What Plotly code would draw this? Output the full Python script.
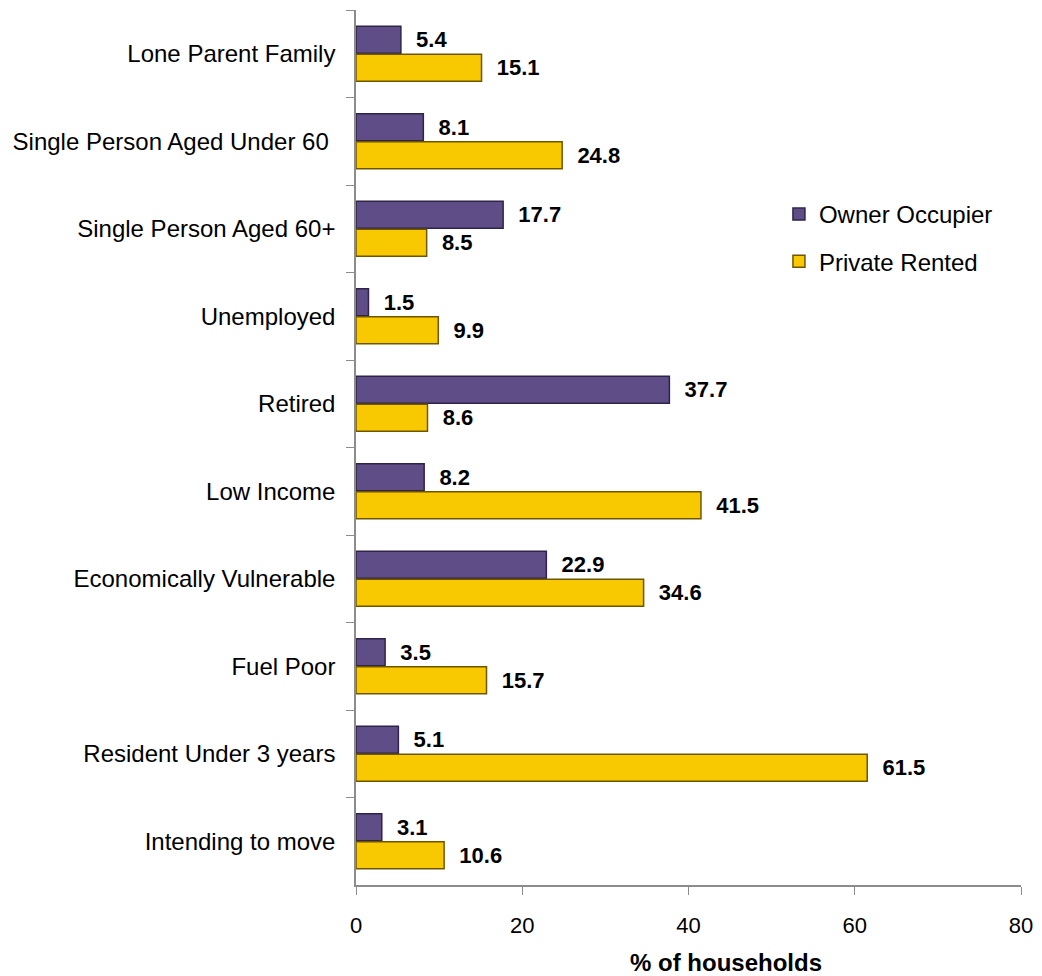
import plotly.graph_objects as go

categories = ["Lone Parent Family", "Single Person Aged Under 60 ", "Single Person Aged 60+",
              "Unemployed", "Retired", "Low Income", "Economically Vulnerable",
              "Fuel Poor", "Resident Under 3 years", "Intending to move"]
owner_occupier = [5.4, 8.1, 17.7, 1.5, 37.7, 8.2, 22.9, 3.5, 5.1, 3.1]
private_rented = [15.1, 24.8, 8.5, 9.9, 8.6, 41.5, 34.6, 15.7, 61.5, 10.6]
x_ticks = [0, 20, 40, 60, 80]
x_title = "% of households"

font_family = "Liberation Sans, Arial, sans-serif"
label_font = dict(size=22, color="black", family=font_family, weight="bold")

fig = go.Figure()
fig.add_trace(go.Bar(
    y=categories, x=owner_occupier, orientation="h", name="Owner Occupier",
    legendgroup="owner",
    marker=dict(color="#5e4d86", line=dict(color="#2f2448", width=1.5)),
    texttemplate="  %{x:.1f}", textposition="outside",
    textfont=label_font, cliponaxis=False,
))
fig.add_trace(go.Bar(
    y=categories, x=private_rented, orientation="h", name="Private Rented",
    legendgroup="private",
    marker=dict(color="#f8c800", line=dict(color="#6e5600", width=1.5)),
    texttemplate="  %{x:.1f}", textposition="outside",
    textfont=label_font, cliponaxis=False,
))

# body margin of 8px in the page is compensated by the figure size/margins
fig.update_layout(
    width=1034, height=968,
    paper_bgcolor="white", plot_bgcolor="white",
    margin=dict(l=348, r=21, t=2, b=91, autoexpand=False),
    barmode="group", bargap=0.36, bargroupgap=0.04,
    font=dict(family=font_family, size=22, color="black"),
    showlegend=True,
    legend=dict(x=0.636, y=0.792, xanchor="left", yanchor="top",
                font=dict(size=24, color="black"), bgcolor="rgba(0,0,0,0)",
                tracegroupgap=13, itemwidth=30),
    annotations=[dict(
        text="<b>" + x_title + "</b>", xref="paper", yref="paper",
        x=0.556, y=-0.088, xanchor="center", yanchor="middle", showarrow=False,
        font=dict(size=24, color="black", family=font_family),
    )],
)
fig.update_xaxes(
    range=[0, 80], tickvals=x_ticks, showgrid=False, zeroline=False,
    showline=True, linecolor="#8c8c8c", linewidth=1.5,
    ticks="outside", ticklen=8, tickcolor="#8c8c8c",
    tickfont=dict(size=22, color="black"), ticklabelstandoff=12,
    automargin=False,
)
fig.update_yaxes(
    autorange="reversed", showgrid=False, zeroline=False,
    showline=True, linecolor="#8c8c8c", linewidth=1.5,
    ticks="outside", ticklen=8, tickcolor="#8c8c8c", tickson="boundaries",
    tickfont=dict(size=24, color="black"), ticklabelstandoff=14,
    automargin=False,
)

fig.write_html("out.html")
